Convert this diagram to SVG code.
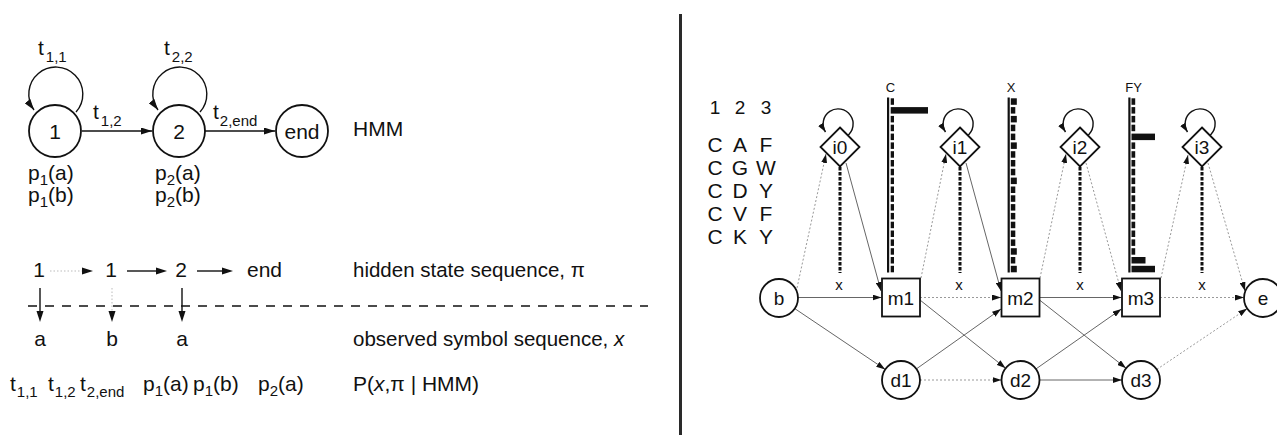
<svg xmlns="http://www.w3.org/2000/svg" width="1277" height="435" viewBox="0 0 1277 435">
<style>
text{font-family:"Liberation Sans",Arial,Helvetica,sans-serif;fill:#111}
.L{font-size:21px}
.M{font-size:20.5px}
.sub{font-size:15px}
.mid{text-anchor:middle}
.nd{fill:#fff;stroke:#111;stroke-width:1.8}
.ln{stroke:#111;stroke-width:1.4;fill:none}
.fd{stroke:#bbb;stroke-width:1;stroke-dasharray:1.5 2;fill:none}
.c{stroke:#666;stroke-width:1;fill:none}
.f{stroke:#999;stroke-width:1;stroke-dasharray:2 2;fill:none}
.em{stroke:#111;stroke-width:3;stroke-dasharray:3.5 1.5;fill:none}
.hd{fill:#111}
.R{font-size:19px}
.lab{font-size:13px}
</style>
<defs>
<marker id="ah" viewBox="0 0 11 7" refX="11" refY="3.5" markerWidth="11" markerHeight="7" markerUnits="userSpaceOnUse" orient="auto"><path d="M0,0 L11,3.5 L0,7 Z" fill="#111"/></marker>
<marker id="as" viewBox="0 0 9 6" refX="9" refY="3" markerWidth="9" markerHeight="6" markerUnits="userSpaceOnUse" orient="auto"><path d="M0,0 L9,3 L0,6 Z" fill="#111"/></marker>
</defs>
<rect width="1277" height="435" fill="#fff"/>

<!-- divider -->
<line x1="680.5" y1="14" x2="680.5" y2="435" stroke="#2a2a2a" stroke-width="3"/>

<!-- ===== LEFT: HMM ===== -->
<g id="connectors-left">
  <path class="ln" d="M76,112 A27,27 0 1 0 34,110" marker-end="url(#ah)"/>
  <path class="ln" d="M200,112 A27,27 0 1 0 158,110" marker-end="url(#ah)"/>
  <line class="ln" x1="82" y1="131" x2="152" y2="131" marker-end="url(#ah)"/>
  <line class="ln" x1="205" y1="131" x2="275" y2="131" marker-end="url(#ah)"/>
</g>
<g id="state1"><circle class="nd" cx="55" cy="131" r="26"/><text class="L mid" x="55" y="138.5">1</text></g>
<g id="state2"><circle class="nd" cx="179" cy="131" r="26"/><text class="L mid" x="179" y="138.5">2</text></g>
<g id="stateEnd"><circle class="nd" cx="302" cy="131" r="26"/><text class="L mid" x="302" y="138.5">end</text></g>
<g id="hmm-labels">
  <text class="L" x="38" y="55">t<tspan class="sub" dx="2" dy="7">1,1</tspan></text>
  <text class="L" x="164" y="55">t<tspan class="sub" dx="2" dy="7">2,2</tspan></text>
  <text class="L" x="93" y="119">t<tspan class="sub" dx="2" dy="7">1,2</tspan></text>
  <text class="L" x="213" y="119">t<tspan class="sub" dx="1" dy="7">2,end</tspan></text>
  <text class="L" x="353" y="136">HMM</text>
  <text class="L" x="28" y="180">p<tspan class="sub" dy="5">1</tspan><tspan dy="-5">(a)</tspan></text>
  <text class="L" x="28" y="202">p<tspan class="sub" dy="5">1</tspan><tspan dy="-5">(b)</tspan></text>
  <text class="L" x="155" y="180">p<tspan class="sub" dy="5">2</tspan><tspan dy="-5">(a)</tspan></text>
  <text class="L" x="155" y="202">p<tspan class="sub" dy="5">2</tspan><tspan dy="-5">(b)</tspan></text>
</g>

<!-- ===== LEFT: sequences ===== -->
<g id="sequence">
  <text class="L mid" x="39" y="277">1</text>
  <text class="L mid" x="111" y="277">1</text>
  <text class="L mid" x="181" y="277">2</text>
  <text class="L" x="247" y="277">end</text>
  <line class="fd" x1="50" y1="271" x2="82" y2="271"/>
  <polygon class="hd" points="82,267.5 93,271 82,274.5"/>
  <line class="ln" x1="127" y1="271" x2="157" y2="271"/>
  <polygon class="hd" points="156,267.5 167,271 156,274.5"/>
  <line class="ln" x1="197" y1="271" x2="223" y2="271"/>
  <polygon class="hd" points="222,267.5 233,271 222,274.5"/>
  <line class="ln" x1="40" y1="288" x2="40" y2="312"/>
  <polygon class="hd" points="36.5,311 40,322 43.5,311"/>
  <line class="fd" x1="112" y1="288" x2="112" y2="311"/>
  <polygon class="hd" points="108.5,311 112,322 115.5,311"/>
  <line class="ln" x1="182" y1="288" x2="182" y2="312"/>
  <polygon class="hd" points="178.5,311 182,322 185.5,311"/>
  <line x1="28" y1="306" x2="648" y2="306" stroke="#111" stroke-width="1.6" stroke-dasharray="9 8"/>
  <text class="L mid" x="40" y="346">a</text>
  <text class="L mid" x="112" y="346">b</text>
  <text class="L mid" x="182" y="346">a</text>
  <text class="M" x="353" y="277">hidden state sequence, π</text>
  <text class="M" x="353" y="346">observed symbol sequence, <tspan font-style="italic">x</tspan></text>
  <text class="L" x="10" y="391">t<tspan class="sub" dx="1" dy="6">1,1</tspan></text>
  <text class="L" x="48" y="391">t<tspan class="sub" dx="1" dy="6">1,2</tspan></text>
  <text class="L" x="80" y="391">t<tspan class="sub" dx="1" dy="6">2,end</tspan></text>
  <text class="L" x="143" y="391">p<tspan class="sub" dy="5">1</tspan><tspan dy="-5">(a)</tspan></text>
  <text class="L" x="193" y="391">p<tspan class="sub" dy="5">1</tspan><tspan dy="-5">(b)</tspan></text>
  <text class="L" x="258" y="391">p<tspan class="sub" dy="5">2</tspan><tspan dy="-5">(a)</tspan></text>
  <text class="L" x="353" y="391">P(<tspan font-style="italic">x</tspan>,π | HMM)</text>
</g>

<!-- ===== RIGHT: alignment ===== -->
<g id="alignment">
  <text class="R mid" x="715" y="114">1</text><text class="R mid" x="740" y="114">2</text><text class="R mid" x="766" y="114">3</text>
  <text class="L mid" x="715" y="151.5">C</text><text class="L mid" x="740" y="151.5">A</text><text class="L mid" x="766" y="151.5">F</text>
  <text class="L mid" x="715" y="174.5">C</text><text class="L mid" x="740" y="174.5">G</text><text class="L mid" x="766" y="174.5">W</text>
  <text class="L mid" x="715" y="197.5">C</text><text class="L mid" x="740" y="197.5">D</text><text class="L mid" x="766" y="197.5">Y</text>
  <text class="L mid" x="715" y="220.5">C</text><text class="L mid" x="740" y="220.5">V</text><text class="L mid" x="766" y="220.5">F</text>
  <text class="L mid" x="715" y="243.5">C</text><text class="L mid" x="740" y="243.5">K</text><text class="L mid" x="766" y="243.5">Y</text>
</g>

<!-- ===== RIGHT: emission histograms ===== -->
<g id="hist-m1">
  <text class="lab mid" x="890.5" y="92">C</text>
  <rect x="887" y="97.5" width="2.2" height="175" fill="#111"/>
  <g fill="#111">
    <rect x="890.7" y="98.3" width="3.3" height="6.5"/>
    <rect x="890.7" y="107.1" width="37.3" height="6.5"/>
    <rect x="890.7" y="115.9" width="3.3" height="6.5"/>
    <rect x="890.7" y="124.7" width="3.3" height="6.5"/>
    <rect x="890.7" y="133.6" width="3.3" height="6.5"/>
    <rect x="890.7" y="142.4" width="3.3" height="6.5"/>
    <rect x="890.7" y="151.2" width="3.3" height="6.5"/>
    <rect x="890.7" y="160.0" width="3.3" height="6.5"/>
    <rect x="890.7" y="168.8" width="3.3" height="6.5"/>
    <rect x="890.7" y="177.6" width="3.3" height="6.5"/>
    <rect x="890.7" y="186.5" width="3.3" height="6.5"/>
    <rect x="890.7" y="195.3" width="3.3" height="6.5"/>
    <rect x="890.7" y="204.1" width="3.3" height="6.5"/>
    <rect x="890.7" y="212.9" width="3.3" height="6.5"/>
    <rect x="890.7" y="221.7" width="3.3" height="6.5"/>
    <rect x="890.7" y="230.5" width="3.3" height="6.5"/>
    <rect x="890.7" y="239.4" width="3.3" height="6.5"/>
    <rect x="890.7" y="248.2" width="3.3" height="6.5"/>
    <rect x="890.7" y="257.0" width="3.3" height="6.5"/>
    <rect x="890.7" y="265.8" width="3.3" height="6.5"/>
  </g>
</g>
<g id="hist-m2">
  <text class="lab mid" x="1011" y="92">X</text>
  <rect x="1007.6" y="97.5" width="2.2" height="175" fill="#111"/>
  <g fill="#111">
    <rect x="1010.8" y="98.3" width="6" height="6.5"/>
    <rect x="1010.8" y="107.1" width="4.5" height="6.5"/>
    <rect x="1010.8" y="115.9" width="6" height="6.5"/>
    <rect x="1010.8" y="124.7" width="4.5" height="6.5"/>
    <rect x="1010.8" y="133.6" width="4.5" height="6.5"/>
    <rect x="1010.8" y="142.4" width="6" height="6.5"/>
    <rect x="1010.8" y="151.2" width="4.5" height="6.5"/>
    <rect x="1010.8" y="160.0" width="4.5" height="6.5"/>
    <rect x="1010.8" y="168.8" width="4.5" height="6.5"/>
    <rect x="1010.8" y="177.6" width="6" height="6.5"/>
    <rect x="1010.8" y="186.5" width="4.5" height="6.5"/>
    <rect x="1010.8" y="195.3" width="4.5" height="6.5"/>
    <rect x="1010.8" y="204.1" width="4.5" height="6.5"/>
    <rect x="1010.8" y="212.9" width="4.5" height="6.5"/>
    <rect x="1010.8" y="221.7" width="4.5" height="6.5"/>
    <rect x="1010.8" y="230.5" width="4.5" height="6.5"/>
    <rect x="1010.8" y="239.4" width="4.5" height="6.5"/>
    <rect x="1010.8" y="248.2" width="6" height="6.5"/>
    <rect x="1010.8" y="257.0" width="4.5" height="6.5"/>
    <rect x="1010.8" y="265.8" width="6" height="6.5"/>
  </g>
</g>
<g id="hist-m3">
  <text class="lab mid" x="1133.5" y="92">FY</text>
  <rect x="1128.3" y="97.5" width="2.2" height="175" fill="#111"/>
  <g fill="#111">
    <rect x="1131.5" y="98.3" width="3.7" height="6.5"/>
    <rect x="1131.5" y="107.1" width="3.7" height="6.5"/>
    <rect x="1131.5" y="115.9" width="3.7" height="6.5"/>
    <rect x="1131.5" y="124.7" width="3.7" height="6.5"/>
    <rect x="1131.5" y="133.6" width="23.5" height="6.5"/>
    <rect x="1131.5" y="142.4" width="3.7" height="6.5"/>
    <rect x="1131.5" y="151.2" width="3.7" height="6.5"/>
    <rect x="1131.5" y="160.0" width="3.7" height="6.5"/>
    <rect x="1131.5" y="168.8" width="3.7" height="6.5"/>
    <rect x="1131.5" y="177.6" width="3.7" height="6.5"/>
    <rect x="1131.5" y="186.5" width="3.7" height="6.5"/>
    <rect x="1131.5" y="195.3" width="3.7" height="6.5"/>
    <rect x="1131.5" y="204.1" width="3.7" height="6.5"/>
    <rect x="1131.5" y="212.9" width="3.7" height="6.5"/>
    <rect x="1131.5" y="221.7" width="3.7" height="6.5"/>
    <rect x="1131.5" y="230.5" width="3.7" height="6.5"/>
    <rect x="1131.5" y="239.4" width="3.7" height="6.5"/>
    <rect x="1131.5" y="248.2" width="3.7" height="6.5"/>
    <rect x="1131.5" y="257.0" width="14" height="6.5"/>
    <rect x="1131.5" y="265.8" width="23.5" height="6.5"/>
  </g>
</g>

<!-- ===== RIGHT: profile HMM connectors ===== -->
<g id="connectors">
  <line class="em" x1="840" y1="167" x2="840" y2="273"/>
  <line class="em" x1="960" y1="167" x2="960" y2="273"/>
  <line class="em" x1="1080" y1="167" x2="1080" y2="273"/>
  <line class="em" x1="1202" y1="167" x2="1202" y2="273"/>
  <path class="ln" d="M847,136 A15,15 0 1 0 825.5,132" marker-end="url(#as)"/>
  <path class="ln" d="M967,136 A15,15 0 1 0 945.5,132" marker-end="url(#as)"/>
  <path class="ln" d="M1087,136 A15,15 0 1 0 1065.5,132" marker-end="url(#as)"/>
  <path class="ln" d="M1209,136 A15,15 0 1 0 1187.5,132" marker-end="url(#as)"/>
  <line class="f" x1="797" y1="288" x2="826" y2="154" marker-end="url(#as)"/>
  <line class="f" x1="921" y1="278" x2="946" y2="154" marker-end="url(#as)"/>
  <line class="f" x1="1040" y1="278" x2="1066" y2="154" marker-end="url(#as)"/>
  <line class="f" x1="1161" y1="278" x2="1188" y2="155" marker-end="url(#as)"/>
  <line class="c" x1="846" y1="163" x2="881" y2="291" marker-end="url(#as)"/>
  <line class="c" x1="966" y1="163" x2="1001" y2="291" marker-end="url(#as)"/>
  <line class="f" x1="1086" y1="163" x2="1121" y2="291" marker-end="url(#as)"/>
  <line class="f" x1="1208" y1="163" x2="1245" y2="291" marker-end="url(#as)"/>
  <line class="c" x1="798" y1="297.5" x2="881.5" y2="297.5" marker-end="url(#as)"/>
  <line class="f" x1="920" y1="297.5" x2="1001" y2="297.5" marker-end="url(#as)"/>
  <line class="c" x1="1039.5" y1="297.5" x2="1121.5" y2="297.5" marker-end="url(#as)"/>
  <line class="f" x1="1160" y1="297.5" x2="1244" y2="297.5" marker-end="url(#as)"/>
  <line class="c" x1="794.8" y1="308.6" x2="885.2" y2="369.4" marker-end="url(#as)"/>
  <line class="c" x1="920" y1="300" x2="1005.6" y2="368.2" marker-end="url(#as)"/>
  <line class="c" x1="1039.5" y1="300" x2="1126.1" y2="368.2" marker-end="url(#as)"/>
  <line class="c" x1="916.4" y1="368.9" x2="1001" y2="309" marker-end="url(#as)"/>
  <line class="c" x1="1036" y1="368.9" x2="1121.5" y2="309" marker-end="url(#as)"/>
  <line class="f" x1="1156.8" y1="369.4" x2="1247.2" y2="308.6" marker-end="url(#as)"/>
  <line class="f" x1="920" y1="380" x2="1001.5" y2="380" marker-end="url(#as)"/>
  <line class="c" x1="1039.5" y1="380" x2="1122" y2="380" marker-end="url(#as)"/>
</g>

<!-- ===== RIGHT: nodes ===== -->
<g id="node-b"><circle class="nd" cx="779" cy="298" r="19"/><text class="R mid" x="779" y="305">b</text></g>
<g id="node-e"><circle class="nd" cx="1263" cy="298" r="19"/><text class="R mid" x="1263" y="305">e</text></g>
<g id="node-i0"><polygon class="nd" points="840,127.5 859.5,147 840,166.5 820.5,147"/><text class="R mid" x="840" y="154">i0</text></g>
<g id="node-i1"><polygon class="nd" points="960,127.5 979.5,147 960,166.5 940.5,147"/><text class="R mid" x="960" y="154">i1</text></g>
<g id="node-i2"><polygon class="nd" points="1080,127.5 1099.5,147 1080,166.5 1060.5,147"/><text class="R mid" x="1080" y="154">i2</text></g>
<g id="node-i3"><polygon class="nd" points="1202,127.5 1221.5,147 1202,166.5 1182.5,147"/><text class="R mid" x="1202" y="154">i3</text></g>
<g id="node-m1"><rect class="nd" x="882" y="278.5" width="38" height="38"/><text class="R mid" x="901" y="304.5">m1</text></g>
<g id="node-m2"><rect class="nd" x="1001.5" y="278.5" width="38" height="38"/><text class="R mid" x="1020.5" y="304.5">m2</text></g>
<g id="node-m3"><rect class="nd" x="1122" y="278.5" width="38" height="38"/><text class="R mid" x="1141" y="304.5">m3</text></g>
<g id="node-d1"><circle class="nd" cx="901" cy="380" r="19"/><text class="R mid" x="901" y="387">d1</text></g>
<g id="node-d2"><circle class="nd" cx="1020.5" cy="380" r="19"/><text class="R mid" x="1020.5" y="387">d2</text></g>
<g id="node-d3"><circle class="nd" cx="1141" cy="380" r="19"/><text class="R mid" x="1141" y="387">d3</text></g>
<g id="x-labels">
  <text class="mid" font-size="15" x="839" y="290">x</text>
  <text class="mid" font-size="15" x="959" y="290">x</text>
  <text class="mid" font-size="15" x="1080" y="290">x</text>
  <text class="mid" font-size="15" x="1202" y="290">x</text>
</g>
</svg>
